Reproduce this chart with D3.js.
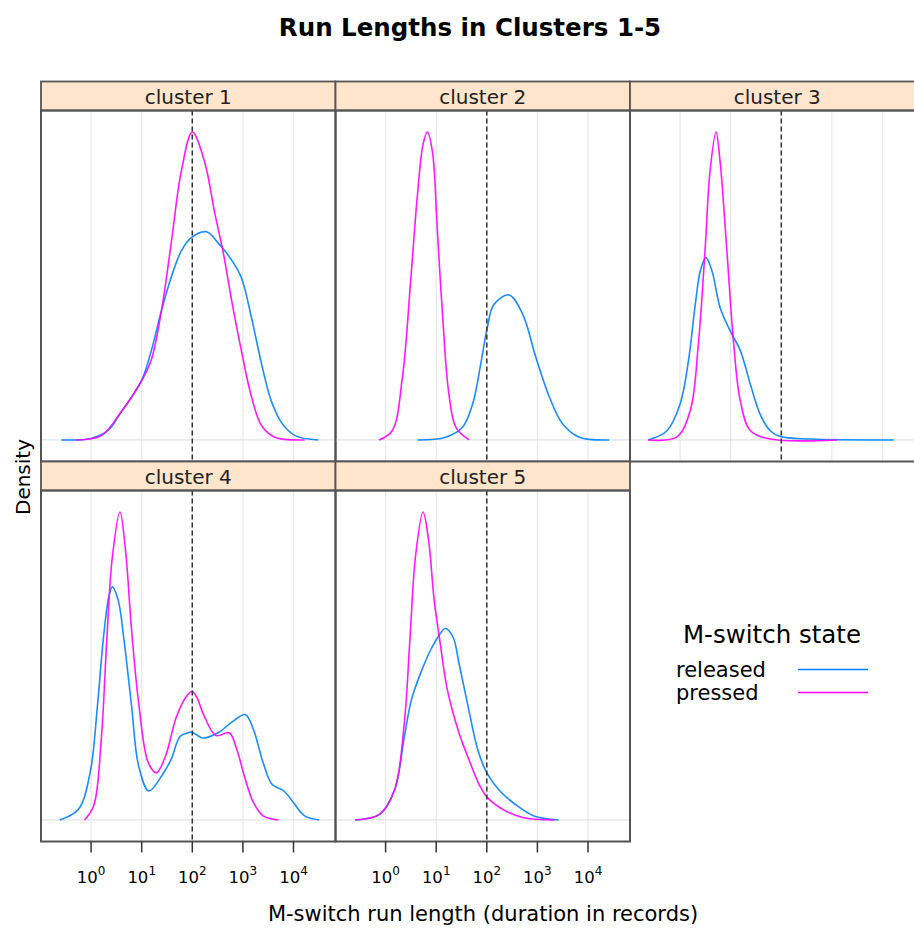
<!DOCTYPE html>
<html>
<head>
<meta charset="utf-8">
<script src="https://cdn.jsdelivr.net/npm/d3@7"></script>
<style>
  body { margin: 0; background: #fff; }
  text { font-family: "DejaVu Sans", sans-serif; fill: #000; }
</style>
</head>
<body>
<div id="chart"></div>
<script>
// Panel names and series, in lattice order
const clusters = ["cluster 1", "cluster 2", "cluster 3", "cluster 4", "cluster 5"];
const states = ["released", "pressed"];
const stateColors = ["#0080ff", "#ff00ff"];
const decades = [0, 1, 2, 3, 4];
const cutoff = 100;

// Density curves: [log10(run length), scaled density]
const c1Released = [[-0.59,0],[0,0.005],[0.33,0.03],[0.59,0.09],[0.99,0.19],[1.19,0.29],[1.39,0.42],[1.58,0.527],[1.78,0.613],[1.98,0.657],[2.28,0.676],[2.51,0.64],[2.77,0.586],[2.97,0.527],[3.17,0.397],[3.37,0.246],[3.56,0.127],[3.76,0.057],[4.03,0.014],[4.49,0]];
const c1Pressed = [[-0.3,0],[0.2,0.014],[0.59,0.09],[0.99,0.19],[1.19,0.26],[1.39,0.42],[1.58,0.635],[1.78,0.87],[2.0,1.0],[2.24,0.905],[2.44,0.74],[2.61,0.61],[2.77,0.46],[2.97,0.29],[3.17,0.14],[3.37,0.046],[3.63,0.009],[4.22,0]];
const c2Released = [[0.63,0],[1.19,0.009],[1.52,0.041],[1.72,0.117],[1.88,0.246],[2.01,0.365],[2.14,0.44],[2.44,0.471],[2.71,0.408],[2.97,0.268],[3.24,0.138],[3.5,0.052],[3.83,0.009],[4.42,0]];
const c2Pressed = [[-0.13,0],[0.13,0.03],[0.33,0.2],[0.5,0.527],[0.63,0.797],[0.74,0.96],[0.825,1.0],[0.925,0.937],[1.02,0.69],[1.12,0.42],[1.25,0.15],[1.39,0.041],[1.65,0]];
const c3Released = [[-0.63,0],[-0.26,0.03],[0,0.117],[0.165,0.257],[0.3,0.44],[0.4,0.549],[0.51,0.592],[0.63,0.549],[0.79,0.43],[0.99,0.354],[1.19,0.29],[1.39,0.18],[1.58,0.084],[1.78,0.03],[1.98,0.011],[2.57,0.003],[4.22,0]];
const c3Pressed = [[-0.63,0],[-0.07,0.009],[0.2,0.095],[0.36,0.31],[0.5,0.635],[0.59,0.87],[0.71,1.0],[0.79,0.905],[0.925,0.613],[1.06,0.311],[1.19,0.127],[1.39,0.03],[1.78,0.003],[3.1,0]];
const c4Released = [[-0.62,0],[-0.25,0.035],[-0.02,0.153],[0.125,0.37],[0.24,0.585],[0.35,0.725],[0.42,0.757],[0.535,0.714],[0.65,0.585],[0.8,0.37],[0.94,0.175],[1.14,0.094],[1.39,0.142],[1.58,0.196],[1.76,0.272],[1.91,0.283],[1.99,0.285],[2.21,0.266],[2.51,0.283],[2.8,0.32],[3.05,0.342],[3.21,0.293],[3.4,0.186],[3.58,0.115],[3.81,0.094],[4.0,0.056],[4.22,0.013],[4.51,0]];
const c4Pressed = [[-0.13,0],[0.05,0.045],[0.2,0.26],[0.31,0.585],[0.42,0.854],[0.57,1.0],[0.68,0.876],[0.8,0.617],[0.94,0.38],[1.13,0.186],[1.29,0.153],[1.47,0.207],[1.69,0.337],[1.9,0.405],[2.0,0.417],[2.1,0.395],[2.21,0.347],[2.47,0.274],[2.73,0.283],[2.88,0.229],[3.03,0.142],[3.21,0.056],[3.4,0.013],[3.7,0]];
const c5Released = [[-0.6,0],[-0.12,0.018],[0.18,0.099],[0.37,0.27],[0.51,0.39],[0.7,0.48],[0.89,0.552],[1.04,0.595],[1.18,0.622],[1.33,0.595],[1.45,0.509],[1.63,0.369],[1.82,0.229],[2.0,0.153],[2.26,0.094],[2.56,0.051],[2.93,0.013],[3.42,0]];
const c5Pressed = [[-0.6,0],[-0.12,0.018],[0.18,0.099],[0.37,0.315],[0.48,0.585],[0.59,0.854],[0.74,1.0],[0.85,0.908],[0.96,0.714],[1.07,0.585],[1.22,0.423],[1.45,0.283],[1.67,0.186],[1.85,0.115],[2.0,0.075],[2.34,0.032],[2.71,0.008],[3.34,0]];

const curves = [
  [c1Released, c1Pressed],
  [c2Released, c2Pressed],
  [c3Released, c3Pressed],
  [c4Released, c4Pressed],
  [c5Released, c5Pressed]
];

// Layout
const W = 914, H = 928;
const left0 = 41, panelW = 294.5;
const stripH = 29, panelH = 351;
const top0 = 81.5;

const svg = d3.select("#chart")
  .append("svg")
  .attr("width", W)
  .attr("height", H);

// Title
svg.append("text")
  .attr("x", 470).attr("y", 36)
  .attr("text-anchor", "middle")
  .style("font-size", "24.5px")
  .style("font-weight", "bold")
  .text("Run Lengths in Clusters 1-5");

const line = d3.line().curve(d3.curveCatmullRom.alpha(0.5));

clusters.forEach(function(name, i) {
  const col = i % 3, row = Math.floor(i / 3);
  const x0 = left0 + col * panelW;
  const stripTop = top0 + row * (stripH + panelH);
  const pTop = stripTop + stripH, pBot = pTop + panelH;

  const x = d3.scaleLog()
    .domain([Math.pow(10, -0.99), Math.pow(10, 4.83)])
    .range([x0, x0 + panelW]);
  const y = d3.scaleLinear()
    .domain([-0.07, 1.07])
    .range([pBot, pTop]);

  const g = svg.append("g");

  // grid
  g.selectAll(".vgrid")
    .data(decades)
    .enter()
    .append("line")
    .attr("x1", d => x(Math.pow(10, d))).attr("x2", d => x(Math.pow(10, d)))
    .attr("y1", pTop).attr("y2", pBot)
    .attr("stroke", "#e8e8e8").attr("stroke-width", 1.2);
  g.append("line")
    .attr("x1", x0).attr("x2", x0 + panelW)
    .attr("y1", y(0)).attr("y2", y(0))
    .attr("stroke", "#e4e4e4").attr("stroke-width", 1.2);

  // curves
  curves[i].forEach(function(pts, s) {
    line.x(d => x(Math.pow(10, d[0]))).y(d => y(d[1]));
    g.append("path")
      .attr("d", line(pts))
      .attr("fill", "none")
      .attr("stroke", stateColors[s])
      .attr("stroke-width", 1.6)
      .attr("stroke-opacity", 0.9);
  });

  // cutoff reference
  g.append("line")
    .attr("x1", x(cutoff)).attr("x2", x(cutoff))
    .attr("y1", pTop).attr("y2", pBot)
    .attr("stroke", "#333").attr("stroke-width", 1.5)
    .attr("stroke-dasharray", "5,3");

  // strip
  g.append("rect")
    .attr("x", x0).attr("y", stripTop)
    .attr("width", panelW).attr("height", stripH)
    .attr("fill", "#ffe5cc")
    .attr("stroke", "#555").attr("stroke-width", 1.8);
  g.append("text")
    .attr("x", x0 + panelW / 2).attr("y", stripTop + stripH - 6.5)
    .attr("text-anchor", "middle")
    .style("font-size", "20px")
    .style("fill", "#222")
    .text(name);

  // panel border
  g.append("rect")
    .attr("x", x0).attr("y", pTop)
    .attr("width", panelW).attr("height", panelH)
    .attr("fill", "none")
    .attr("stroke", "#555").attr("stroke-width", 2);

  // bottom axis on lower row
  if (row === 1) {
    g.selectAll(".tick")
      .data(decades)
      .enter()
      .append("line")
      .attr("x1", d => x(Math.pow(10, d))).attr("x2", d => x(Math.pow(10, d)))
      .attr("y1", pBot).attr("y2", pBot + 11)
      .attr("stroke", "#333").attr("stroke-width", 1.5);
    const lab = g.selectAll(".tlab")
      .data(decades)
      .enter()
      .append("text")
      .attr("x", d => x(Math.pow(10, d)))
      .attr("y", 883)
      .attr("text-anchor", "middle")
      .style("font-size", "16.5px");
    lab.append("tspan").text("10");
    lab.append("tspan")
      .attr("dy", -8)
      .style("font-size", "12px")
      .text(d => d);
  }
});

// axis labels
svg.append("text")
  .attr("x", 483).attr("y", 921)
  .attr("text-anchor", "middle")
  .style("font-size", "21px")
  .text("M-switch run length (duration in records)");
svg.append("text")
  .attr("transform", "translate(30,477) rotate(-90)")
  .attr("text-anchor", "middle")
  .style("font-size", "20px")
  .text("Density");

// legend
const legend = svg.append("g");
legend.append("text")
  .attr("x", 772).attr("y", 643)
  .attr("text-anchor", "middle")
  .style("font-size", "24.5px")
  .text("M-switch state");
states.forEach(function(s, i) {
  legend.append("text")
    .attr("x", 676).attr("y", 677 + i * 23)
    .style("font-size", "21px")
    .text(s);
  legend.append("line")
    .attr("x1", 798).attr("x2", 868)
    .attr("y1", 669.5 + i * 23).attr("y2", 669.5 + i * 23)
    .attr("stroke", stateColors[i]).attr("stroke-width", 1.6);
});
</script>
</body>
</html>
